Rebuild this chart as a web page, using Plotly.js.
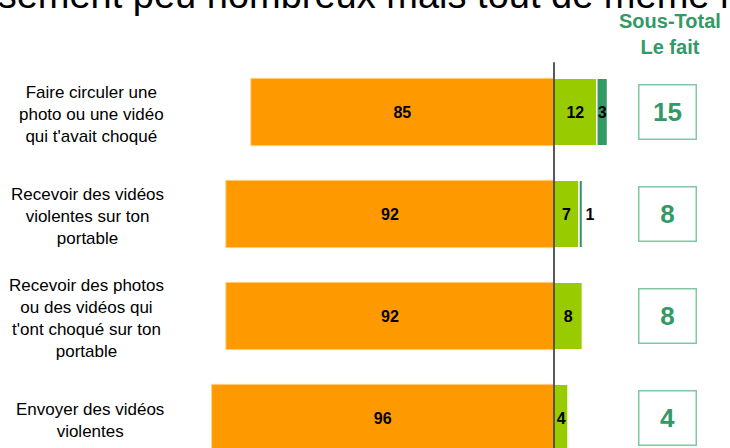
<!DOCTYPE html>
<html>
<head>
<meta charset="utf-8">
<script src="https://cdn.plot.ly/plotly-3.0.1.min.js"></script>
<style>html,body{margin:0;padding:0;background:#fff;}#chart{width:730px;height:448px;}</style>
</head>
<body>
<div id="chart"></div>
<script>
// ---- data ----
const categories = ["cat1", "cat2", "cat3", "cat4"];
const labels = [
  "Faire circuler une<br>photo ou une vidéo<br>qui t'avait choqué",
  "Recevoir des vidéos<br>violentes sur ton<br>portable",
  "Recevoir des photos<br>ou des vidéos qui<br>t'ont choqué sur ton<br>portable",
  "Envoyer des vidéos<br>violentes"
];
const nonFait = [85, 92, 92, 96];       // orange, left of zero
const faitParfois = [12, 7, 8, 4];      // light green
const faitSouvent = [3, 1, 0, 0];       // dark green
const sousTotal = [15, 8, 8, 4];        // boxed sub-total
const titleText = "Heureusement peu nombreux mais tout de même non négligeables";
const headerText = "Sous-Total<br>Le fait";

const FONT = "Liberation Sans, Arial, sans-serif";
const GREEN_TXT = "#339966";

const common = {
  type: "bar", orientation: "h", y: categories,
  textposition: "inside", insidetextanchor: "middle", constraintext: "none",
  textfont: {family: FONT, size: 16, color: "#000", weight: "bold"},
  insidetextfont: {family: FONT, size: 16, color: "#000", weight: "bold"},
  outsidetextfont: {family: FONT, size: 16, color: "#000", weight: "bold"},
  hoverinfo: "skip", cliponaxis: false
};

const traces = [
  Object.assign({}, common, {
    x: nonFait.map(v => -v), text: nonFait.map(String),
    marker: {color: "#FF9900", line: {color: "#FFD27F", width: 1}}
  }),
  Object.assign({}, common, {
    x: faitParfois, text: faitParfois.map(String),
    marker: {color: "#99CC00", line: {color: "#FFFFFF", width: 1.5}}
  }),
  Object.assign({}, common, {
    x: faitSouvent, text: faitSouvent.map(v => v ? String(v) : ""),
    textposition: faitSouvent.map(v => v >= 2 ? "inside" : (v > 0 ? "outside" : "none")),
    marker: {color: "#339966", line: {color: "#FFFFFF", width: 1.5}}
  })
];

const annotations = [];
categories.forEach((c, i) => {
  annotations.push({
    xref: "paper", yref: "y", x: 166 / 730, y: c, yshift: -2,
    xanchor: "right", yanchor: "middle", align: "center", showarrow: false,
    text: labels[i], font: {family: FONT, size: 17, color: "#000"}
  });
  annotations.push({
    xref: "paper", yref: "y", x: 667.5 / 730, y: c,
    xanchor: "center", yanchor: "middle", showarrow: false,
    text: String(sousTotal[i]), width: 56, height: 53, borderpad: 0,
    bordercolor: "#80C8A4", borderwidth: 1.5,
    font: {family: FONT, size: 26, color: GREEN_TXT, weight: "bold"}
  });
});
annotations.push({
  xref: "paper", yref: "paper", x: 670 / 730, y: 1 + (61 - 34) / 387,
  xanchor: "center", yanchor: "middle", showarrow: false, align: "center",
  text: headerText, font: {family: FONT, size: 20, color: GREEN_TXT, weight: "bold"}
});
annotations.push({
  xref: "paper", yref: "paper", x: -129 / 730, y: 1 + (61 + 4.7) / 387,
  xanchor: "left", yanchor: "middle", showarrow: false,
  text: titleText, font: {family: FONT, size: 38, color: "#000"}
});

const layout = {
  width: 730, height: 448,
  margin: {l: 0, r: 0, t: 61, b: 0, pad: 0},
  paper_bgcolor: "#fff", plot_bgcolor: "#fff",
  barmode: "relative", bargap: 0.34, showlegend: false,
  xaxis: {range: [-554 / 3.567, (730 - 554) / 3.567], showticklabels: false,
          showgrid: false, zeroline: false, showline: false, fixedrange: true},
  yaxis: {type: "category", categoryarray: categories, categoryorder: "array",
          range: [3.294, -0.5], showticklabels: false, showgrid: false,
          zeroline: false, showline: false, fixedrange: true},
  shapes: [{type: "line", xref: "x", yref: "paper", x0: 0, x1: 0, y0: 0, y1: 0.997,
            line: {color: "#000", width: 1.3}, layer: "above"}],
  annotations: annotations
};

Plotly.newPlot("chart", traces, layout, {displayModeBar: false, staticPlot: true});
</script>
</body>
</html>
